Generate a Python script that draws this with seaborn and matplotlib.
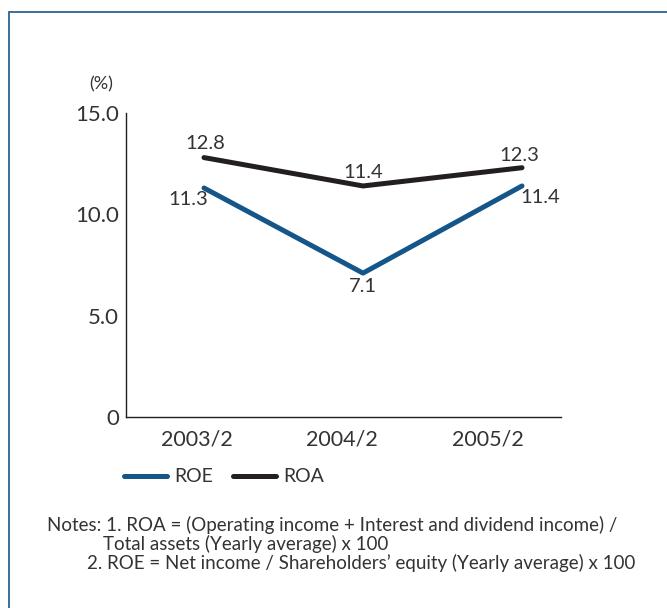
import matplotlib
matplotlib.use("Agg")
import matplotlib.pyplot as plt
import seaborn as sns
import pandas as pd
from matplotlib.patches import Rectangle
from matplotlib.lines import Line2D

periods = ["2003/2", "2004/2", "2005/2"]
roe = [11.3, 7.1, 11.4]
roa = [12.8, 11.4, 12.3]
yticks = [0, 5, 10, 15]
ytick_labels = ["0", "5.0", "10.0", "15.0"]
notes = ["Notes: 1. ROA = (Operating income + Interest and dividend income) /",
         "Total assets (Yearly average) x 100",
         "2. ROE = Net income / Shareholders\u2019 equity (Yearly average) x 100"]

sns.set_theme(style="white")
plt.rcParams['font.family'] = ['Lato', 'DejaVu Sans']

df = pd.DataFrame({
    "x": list(range(len(periods))) * 2,
    "value": roe + roa,
    "series": ["ROE"] * 3 + ["ROA"] * 3,
})

W, H = 667, 608
fig = plt.figure(figsize=(W / 100, H / 100), dpi=100)
# x data: 0 at px 204, 1 unit = 159 px
ax = fig.add_axes([126 / W, 1 - 417 / H, (561 - 126) / W, (417 - 113) / H])

palette = {"ROE": "#15568a", "ROA": "#231f20"}
sns.lineplot(data=df, x="x", y="value", hue="series", palette=palette,
             linewidth=3.6, ax=ax, legend=False, solid_capstyle="round")

ax.set_xlim((126 - 204) / 159, (561 - 204) / 159)
ax.set_ylim(0, 15)
# tick labels in the reference sit slightly left of the data points
ax.set_xticks([(197 - 204) / 159, (342 - 204) / 159, (488 - 204) / 159])
ax.set_xticklabels(periods)
ax.set_yticks(yticks)
ax.set_yticklabels(ytick_labels)
ax.set_xlabel("")
ax.set_ylabel("")
for s in ["top", "right"]:
    ax.spines[s].set_visible(False)
for s in ["left", "bottom"]:
    ax.spines[s].set_color("#231f20")
    ax.spines[s].set_linewidth(1.0)
tc = "#333333"
ax.tick_params(axis="both", length=0, labelsize=16, colors=tc)
ax.tick_params(axis="x", pad=9, labelsize=15.5)
ax.tick_params(axis="y", pad=5)

fs = 14.5
def lab(x, y, dx, dy):
    ax.annotate(f"{y}", (x, y), xytext=(dx, dy), textcoords="offset points",
                ha="center", va="center", fontsize=fs, color=tc)

lab(0, roa[0], 1, 10)
lab(1, roa[1], 0, 10)
lab(2, roa[2], -2, 8.5)
lab(0, roe[0], -11, -8)
lab(1, roe[1], 0, -10)
lab(2, roe[2], 13, -8.5)

fig.text(101 / W, 1 - 84 / H, "(%)", ha="center", va="center", fontsize=13, color=tc)

handles = [Line2D([], [], color=palette["ROE"], lw=3.6, solid_capstyle="round"),
           Line2D([], [], color=palette["ROA"], lw=3.6, solid_capstyle="round")]
fig.legend(handles, ["ROE", "ROA"], loc="center left", bbox_to_anchor=(124 / W, 1 - 477 / H),
           ncol=2, frameon=False, fontsize=14, handlelength=2.2, handletextpad=0.4,
           columnspacing=1.0, labelcolor=tc, borderpad=0, borderaxespad=0)

nfs = 13.5
fig.text(47 / W, 1 - 525 / H, notes[0], ha="left", va="center", fontsize=nfs, color=tc)
fig.text(103 / W, 1 - 544 / H, notes[1], ha="left", va="center", fontsize=nfs, color=tc)
fig.text(87 / W, 1 - 563 / H, notes[2], ha="left", va="center", fontsize=nfs, color=tc)

fig.patches.append(Rectangle((9 / W, -0.05), 1.2, 1 - 12 / H + 0.05, transform=fig.transFigure,
                             fill=False, edgecolor="#2a6496", linewidth=1.3))

fig.savefig("out.png", dpi=100)
